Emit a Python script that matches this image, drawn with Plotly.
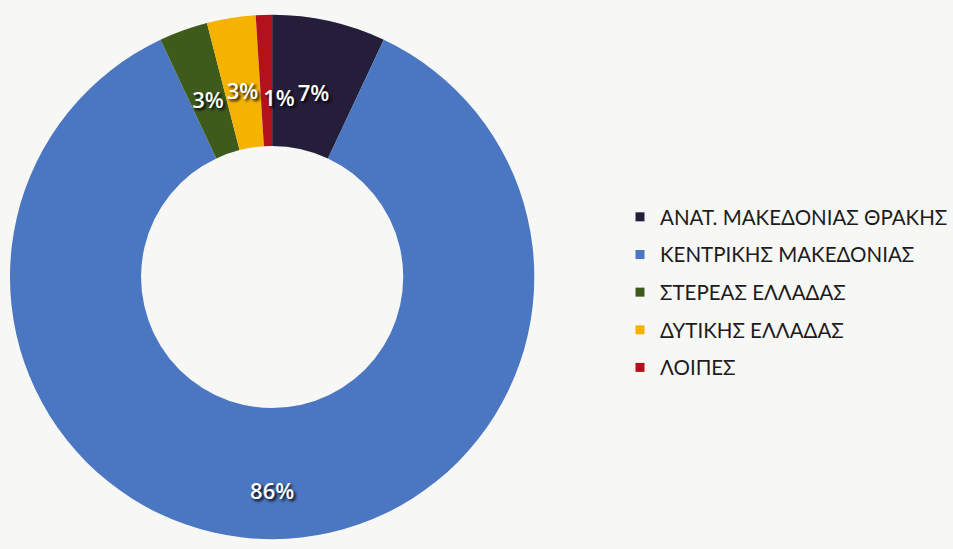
import plotly.graph_objects as go

# Regional shares (%)
regions = [
    "ΑΝΑΤ. ΜΑΚΕΔΟΝΙΑΣ ΘΡΑΚΗΣ",
    "ΚΕΝΤΡΙΚΗΣ ΜΑΚΕΔΟΝΙΑΣ",
    "ΣΤΕΡΕΑΣ ΕΛΛΑΔΑΣ",
    "ΔΥΤΙΚΗΣ ΕΛΛΑΔΑΣ",
    "ΛΟΙΠΕΣ",
]
shares = [7, 86, 3, 3, 1]
colors = ["#241e3a", "#4b77c2", "#3e5b1c", "#f5b300", "#b3111b"]

W, H = 953, 549
BG = "#f7f7f6"
CX, CY = 273, 277          # ring centre (px)
R_OUT = 263                # outer radius of the coloured ring (px)


def dom(r):
    return dict(x=[(CX - r) / W, (CX + r) / W],
                y=[(H - CY - r) / H, (H - CY + r) / H])


label_font = dict(family="Open Sans", size=22, color="white", weight=600,
                  shadow="2px 2px 3px #000")

big = [v >= 50 for v in shares]
tiny = [v <= 1 for v in shares]
clear = ["rgba(0,0,0,0)"] * len(shares)

fig = go.Figure()

# Coloured ring
fig.add_trace(go.Pie(
    labels=regions, values=shares, sort=False,
    direction="clockwise", rotation=0, hole=0.5,
    marker=dict(colors=colors, line=dict(width=0)),
    textinfo="none", showlegend=False, hoverinfo="skip",
    domain=dom(R_OUT),
))


def label_band(mask, r_outer, hole, rotation=0):
    """Transparent ring that only carries the % labels picked by mask."""
    fig.add_trace(go.Pie(
        labels=regions, values=shares, sort=False,
        direction="clockwise", rotation=rotation, hole=hole,
        marker=dict(colors=clear, line=dict(width=0)),
        texttemplate=["%{value}%" if m else "" for m in mask],
        textposition="inside", insidetextorientation="horizontal",
        textfont=label_font, showlegend=False, hoverinfo="skip",
        domain=dom(r_outer),
    ))


# dominant slice
label_band(big, 232, 0.85)
# narrow slices
label_band([not (b or t) for b, t in zip(big, tiny)], 205, 0.854)
# smallest slice, nudged clockwise so it clears its neighbour
label_band(tiny, 186, 0.85, rotation=4)

# Legend entries (one group each so the rows can be spaced apart)
for name, col in zip(regions, colors):
    fig.add_trace(go.Scatter(
        x=[None], y=[None], mode="markers", name=name,
        legendgroup=name,
        marker=dict(symbol="square", size=9, color=col),
    ))

fig.update_layout(
    width=W, height=H,
    margin=dict(l=0, r=0, t=0, b=0),
    paper_bgcolor=BG,
    plot_bgcolor=BG,
    xaxis=dict(visible=False),
    yaxis=dict(visible=False),
    uniformtext=dict(minsize=22, mode="show"),
    legend=dict(
        x=622 / W, y=1 - 197 / H, xanchor="left", yanchor="top",
        font=dict(family="Lato", size=20.5, color="#1c1c1c"),
        tracegroupgap=8,
        bgcolor="rgba(0,0,0,0)",
    ),
)

fig.write_html("out.html")
